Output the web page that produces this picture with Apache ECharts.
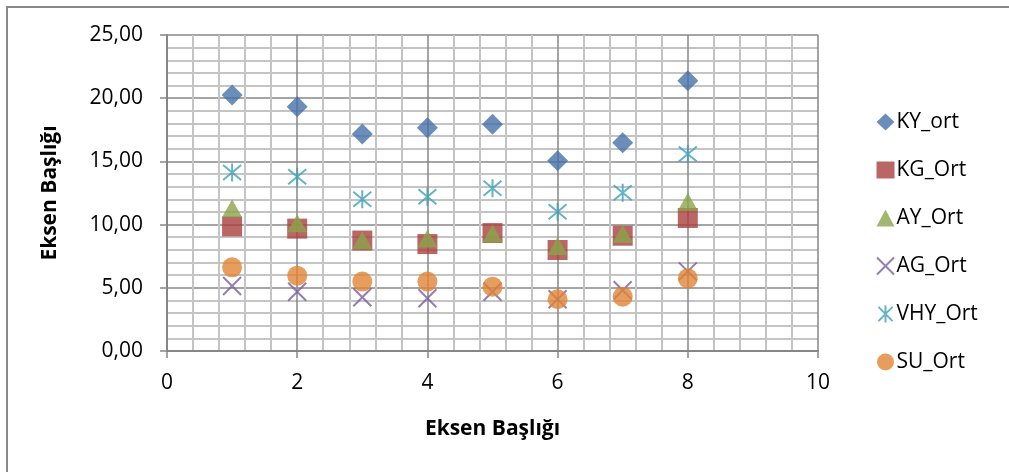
<!DOCTYPE html>
<html>
<head>
<meta charset="utf-8">
<script src="https://cdn.jsdelivr.net/npm/echarts@6/dist/echarts.min.js"></script>
<style>
html,body{margin:0;padding:0;background:#fff;}
#chart{width:1009px;height:472px;}
</style>
</head>
<body>
<div id="chart"></div>
<script>
const xValues = [1, 2, 3, 4, 5, 6, 7, 8];
const KY_ort = [20.25, 19.33, 17.17, 17.67, 17.93, 15.06, 16.48, 21.39];
const KG_Ort = [9.86, 9.68, 8.74, 8.46, 9.33, 7.99, 9.12, 10.52];
const AY_Ort = [11.29, 10.10, 8.76, 8.91, 9.30, 8.30, 9.28, 11.81];
const AG_Ort = [5.14, 4.69, 4.25, 4.17, 4.69, 4.10, 4.80, 6.30];
const VHY_Ort = [14.13, 13.79, 12.00, 12.21, 12.87, 11.02, 12.52, 15.58];
const SU_Ort = [6.62, 5.96, 5.49, 5.49, 5.09, 4.09, 4.30, 5.75];
const seriesNames = ['KY_ort', 'KG_Ort', 'AY_Ort', 'AG_Ort', 'VHY_Ort', 'SU_Ort'];
const axisTitle = 'Eksen Başlığı';

const FONT = 'Open Sans';
const pairs = arr => xValues.map((x, i) => [x, arr[i]]);

const xPath = 'path://M0,0L100,100M100,0L0,100';
const starPath = 'path://M0,0L100,100M100,0L0,100M50,-10L50,110';

const chart = echarts.init(document.getElementById('chart'));
chart.setOption({
  animation: false,
  backgroundColor: '#fff',
  graphic: [{
    type: 'rect', shape: {x: 7, y: 7, width: 1020, height: 480},
    style: {fill: 'none', stroke: '#888', lineWidth: 2}, silent: true
  }],
  grid: {left: 167, right: 191, top: 35, bottom: 121},
  xAxis: {
    type: 'value', min: 0, max: 10, interval: 2,
    name: axisTitle, nameLocation: 'middle', nameGap: 68,
    nameTextStyle: {fontFamily: FONT, fontSize: 21, fontWeight: 'bold', color: '#000'},
    axisLine: {show: true, onZero: false, lineStyle: {color: '#868686', width: 2}},
    axisTick: {show: true, length: 7, lineStyle: {color: '#868686', width: 1.5}},
    axisLabel: {fontFamily: FONT, fontSize: 21, color: '#000', margin: 22},
    splitLine: {show: true, lineStyle: {color: '#878787', width: 1.5}},
    minorTick: {show: false, splitNumber: 5},
    minorSplitLine: {show: true, lineStyle: {color: '#c4c4c4', width: 2}}
  },
  yAxis: {
    type: 'value', min: 0, max: 25, interval: 5,
    name: axisTitle, nameLocation: 'middle', nameGap: 106,
    nameTextStyle: {fontFamily: FONT, fontSize: 21, fontWeight: 'bold', color: '#000'},
    axisLine: {show: true, lineStyle: {color: '#868686', width: 2}},
    axisTick: {show: true, length: 7, lineStyle: {color: '#868686', width: 1.5}},
    axisLabel: {fontFamily: FONT, fontSize: 21, color: '#000', margin: 24,
      formatter: v => v.toFixed(2).replace('.', ',')},
    splitLine: {show: true, lineStyle: {color: '#878787', width: 1.5}},
    minorTick: {show: false, splitNumber: 5},
    minorSplitLine: {show: true, lineStyle: {color: '#c4c4c4', width: 2}}
  },
  legend: {
    orient: 'vertical', left: 871, top: 106,
    itemWidth: 18, itemHeight: 17, itemGap: 26,
    textStyle: {fontFamily: FONT, fontSize: 21, color: '#000', lineHeight: 22, padding: [0, 0, 0, -3]},
    data: seriesNames
  },
  series: [
    {name: seriesNames[0], type: 'scatter', data: pairs(KY_ort), symbol: 'diamond', symbolSize: 21,
      itemStyle: {color: '#4670a8'}},
    {name: seriesNames[1], type: 'scatter', data: pairs(KG_Ort), symbol: 'rect', symbolSize: 20,
      itemStyle: {color: '#a8403f'}},
    {name: seriesNames[2], type: 'scatter', data: pairs(AY_Ort), symbol: 'triangle', symbolSize: [20, 18],
      itemStyle: {color: '#8ba548'}},
    {name: seriesNames[3], type: 'scatter', data: pairs(AG_Ort), symbol: xPath, symbolSize: 18,
      itemStyle: {color: 'rgba(0,0,0,0)', borderColor: '#7a5ea0', borderWidth: 2}},
    {name: seriesNames[4], type: 'scatter', data: pairs(VHY_Ort), symbol: starPath, symbolSize: 18,
      itemStyle: {color: 'rgba(0,0,0,0)', borderColor: '#3fa0b8', borderWidth: 2}},
    {name: seriesNames[5], type: 'scatter', data: pairs(SU_Ort), symbol: 'circle', symbolSize: 20,
      itemStyle: {color: '#e08436'}}
  ]
});
</script>
</body>
</html>
